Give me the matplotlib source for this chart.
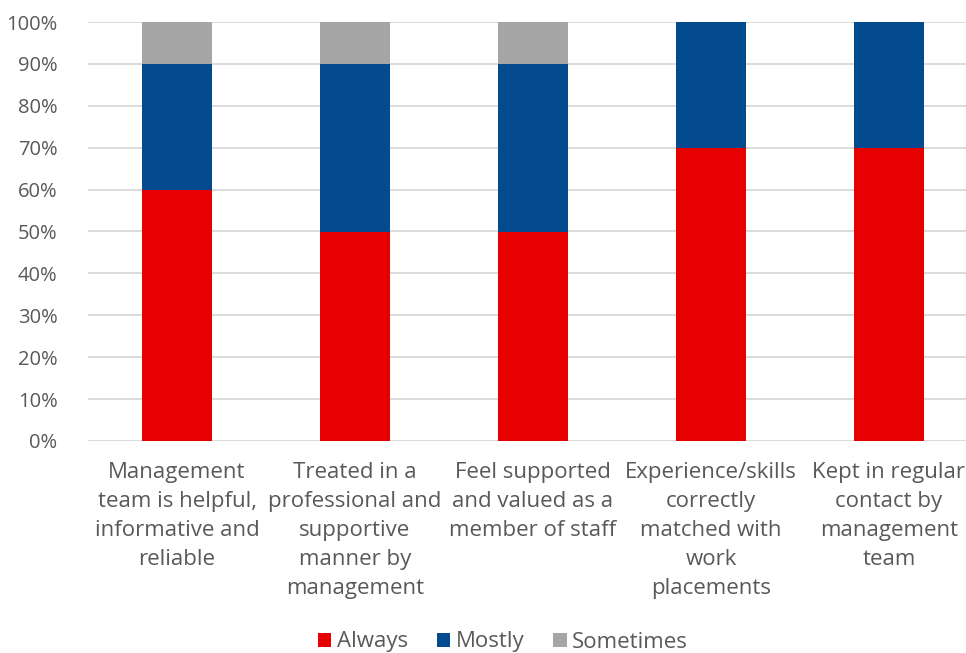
import matplotlib
matplotlib.use("Agg")
import matplotlib.pyplot as plt
import numpy as np

categories = [
    "Management\nteam is helpful,\ninformative and\nreliable",
    "Treated in a\nprofessional and\nsupportive\nmanner by\nmanagement",
    "Feel supported\nand valued as a\nmember of staff",
    "Experience/skills\ncorrectly\nmatched with\nwork\nplacements",
    "Kept in regular\ncontact by\nmanagement\nteam",
]
always = [60, 50, 50, 70, 70]
mostly = [30, 40, 40, 30, 30]
sometimes = [10, 10, 10, 0, 0]
series_names = ["Always", "Mostly", "Sometimes"]
colors = ["#E60000", "#044A8F", "#A6A6A6"]
yticks = [0, 10, 20, 30, 40, 50, 60, 70, 80, 90, 100]

plt.rcParams['font.family'] = ['Open Sans', 'DejaVu Sans']
text_color = "#595959"

fig = plt.figure(figsize=(9.66, 6.53), dpi=100)
ax = fig.add_axes([88/966, 1-441/653, 890/966, (441-22)/653])

x = np.arange(len(categories))
w = 0.393
ax.bar(x, always, w, color=colors[0], label=series_names[0], zorder=3)
ax.bar(x, mostly, w, bottom=always, color=colors[1], label=series_names[1], zorder=3)
bottom2 = [a + m for a, m in zip(always, mostly)]
ax.bar(x, sometimes, w, bottom=bottom2, color=colors[2], label=series_names[2], zorder=3)

ax.set_xlim(-0.5, len(categories) - 0.5)
ax.set_ylim(0, 100)
ax.set_yticks(yticks)
ax.set_yticklabels([f"{v}%" for v in yticks])
ax.yaxis.grid(True, color="#D9D9D9", linewidth=1.3, zorder=0)
ax.set_axisbelow(True)
for s in ["top", "right", "left", "bottom"]:
    ax.spines[s].set_visible(False)
ax.tick_params(axis="both", length=0, labelcolor=text_color)
ax.tick_params(axis="y", pad=22, labelsize=14.5)
ax.set_xticks(x)
ax.set_xticklabels(categories, linespacing=1.51, va="top", fontsize=16)
ax.tick_params(axis="x", pad=15)

leg = fig.legend(loc="center", bbox_to_anchor=(503/966, 1-642/653), ncol=3, frameon=False,
                 fontsize=16, handlelength=0.6, handleheight=0.6, handletextpad=0.25,
                 columnspacing=1.3, labelcolor=text_color)

fig.savefig("out.png", dpi=100)
